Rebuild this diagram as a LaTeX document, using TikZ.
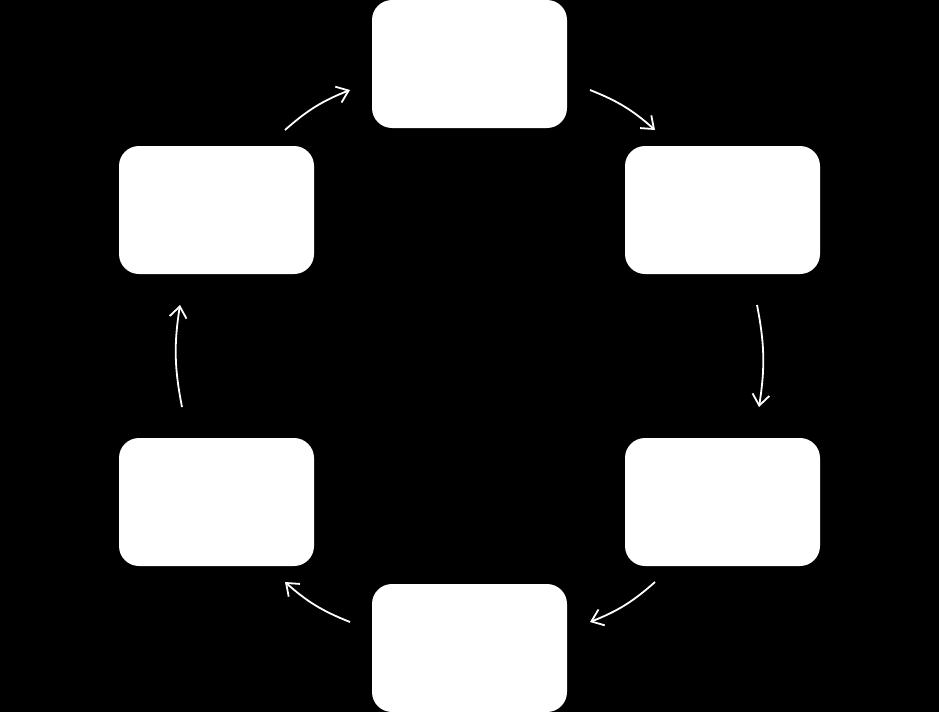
\documentclass[tikz,border=0pt]{standalone}
\usetikzlibrary{arrows.meta}
\begin{document}
\begin{tikzpicture}[x=1pt,y=-1pt,
  stage/.style={fill=white,draw=none,rounded corners=20pt,minimum width=195pt,minimum height=128pt,inner sep=0pt},
  flow/.style={draw=white,line width=1.8pt,-{Straight Barb[length=11pt,width=17pt,line width=1.8pt]}}]
\fill[black] (0,0) rectangle (939,712);
\useasboundingbox (0,0) rectangle (939,712);
\node[stage] (top) at (469.5,64) {};
\node[stage] (rt) at (722.5,210) {};
\node[stage] (rb) at (722.5,502) {};
\node[stage] (bot) at (469.5,648) {};
\node[stage] (lb) at (216.5,502) {};
\node[stage] (lt) at (216.5,210) {};
\coordinate (a1) at (285,130); \coordinate (a2) at (350,90);
\coordinate (b1) at (590,90); \coordinate (b2) at (655,130);
\coordinate (c1) at (757,305); \coordinate (c2) at (759,407);
\coordinate (d1) at (655,582); \coordinate (d2) at (590,622);
\coordinate (e1) at (350,622); \coordinate (e2) at (285,582);
\coordinate (f1) at (182,407); \coordinate (f2) at (180,305);
\draw[flow] (a1) to[bend left=10] (a2);
\draw[flow] (b1) to[bend left=10] (b2);
\draw[flow] (c1) to[bend left=10] (c2);
\draw[flow] (d1) to[bend left=10] (d2);
\draw[flow] (e1) to[bend left=10] (e2);
\draw[flow] (f1) to[bend left=10] (f2);
\end{tikzpicture}
\end{document}
